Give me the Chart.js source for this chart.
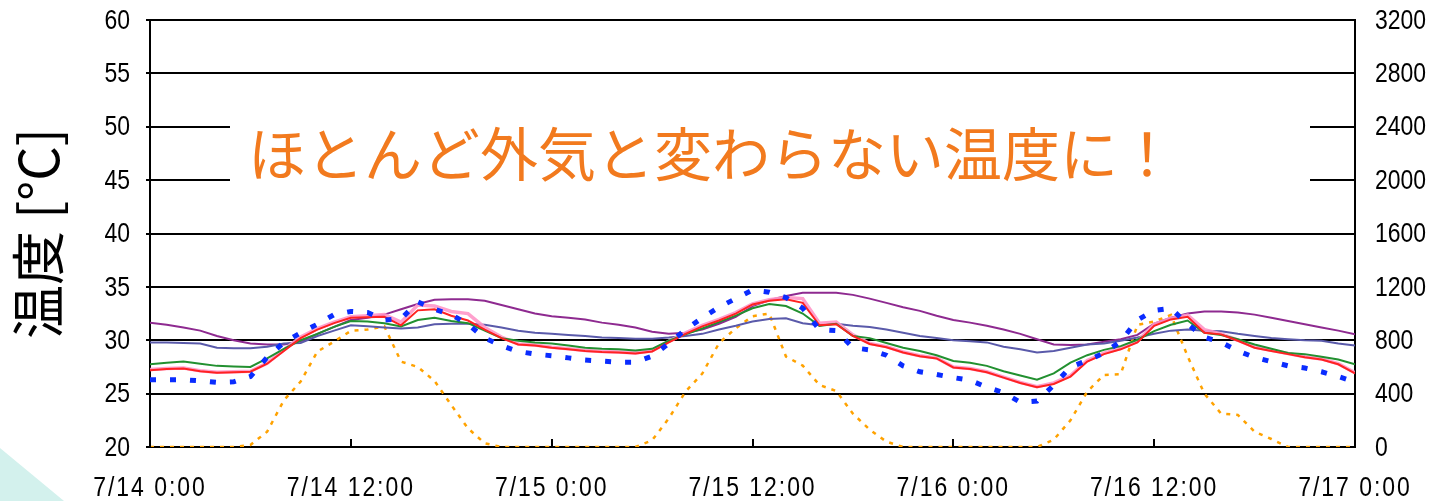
<!DOCTYPE html>
<html>
<head>
<meta charset="utf-8">
<script src="https://cdn.jsdelivr.net/npm/chart.js@4.4.1/dist/chart.umd.min.js"></script>
<style>
html,body{margin:0;padding:0;background:#fff;}
#wrap{position:relative;width:1437px;height:501px;overflow:hidden;background:#fff;}
#deco{position:absolute;left:0;top:0;width:1437px;height:501px;background:#d3f1ed;clip-path:polygon(0 448px,64px 501px,0 501px);}
#c{position:absolute;left:0;top:0;}
</style>
</head>
<body>
<div id="wrap"><div id="deco"></div><canvas id="c" width="1437" height="501"></canvas></div>
<script>
// ---- data (hours since 7/14 0:00) ----
const hours = [0,1,2,3,4,5,6,7,8,9,10,11,12,13,14,15,16,17,18,19,20,21,22,23,24,25,26,27,28,29,30,31,32,33,34,35,36,37,38,39,40,41,42,43,44,45,46,47,48,49,50,51,52,53,54,55,56,57,58,59,60,61,62,63,64,65,66,67,68,69,70,71,72];
const tickLabels = ["7/14 0:00","7/14 12:00","7/15 0:00","7/15 12:00","7/16 0:00","7/16 12:00","7/17 0:00"];

const purpleTemp = [31.65,31.45,31.2,30.9,30.4,30.0,29.7,29.6,29.6,29.9,30.6,31.25,
  31.9,32.1,32.4,32.9,33.4,33.8,33.85,33.85,33.7,33.3,32.9,32.5,
  32.25,32.1,31.95,31.65,31.45,31.2,30.8,30.6,30.7,31.0,31.55,32.2,
  33.2,33.75,34.15,34.45,34.45,34.45,34.25,33.9,33.5,33.1,32.75,32.3,
  31.9,31.65,31.35,31.0,30.6,30.1,29.6,29.55,29.6,29.85,30.1,30.5,
  31.55,32.1,32.5,32.7,32.7,32.6,32.4,32.1,31.8,31.5,31.2,30.9,30.55];
const slateTemp = [29.8,29.8,29.75,29.7,29.3,29.25,29.25,29.4,29.7,29.75,30.4,30.9,
  31.4,31.3,31.2,31.1,31.2,31.5,31.55,31.55,31.45,31.2,30.9,30.7,
  30.6,30.5,30.4,30.25,30.2,30.15,30.15,30.25,30.4,30.6,31.0,31.35,
  31.75,32.0,32.05,31.6,31.4,31.55,31.35,31.25,31.0,30.7,30.4,30.2,
  30.0,29.9,29.8,29.4,29.15,28.85,29.0,29.3,29.6,29.7,29.95,30.25,
  30.6,30.9,31.0,30.9,30.85,30.6,30.4,30.2,30.1,30.0,29.95,29.7,29.5];
const greenTemp = [27.75,27.9,28.0,27.8,27.6,27.55,27.5,28.3,29.2,30.0,30.6,31.25,
  31.8,31.75,31.6,31.3,31.9,32.1,31.8,31.6,30.9,30.2,29.95,29.8,
  29.7,29.5,29.3,29.2,29.15,29.05,29.2,29.95,30.55,31.1,31.7,32.3,
  33.0,33.4,33.2,32.5,31.35,31.55,30.4,30.2,29.75,29.3,29.0,28.6,
  28.05,27.9,27.6,27.1,26.7,26.3,26.9,27.9,28.6,29.1,29.45,30.05,
  30.85,31.45,31.85,30.7,30.5,30.1,29.6,29.2,28.8,28.7,28.45,28.2,27.75];
const redTemp = [27.2,27.3,27.35,27.1,26.95,27.0,27.05,27.8,29.0,30.2,31.0,31.6,
  32.1,32.15,32.2,31.4,32.8,32.9,32.3,31.85,31.0,30.2,29.6,29.5,
  29.3,29.15,29.0,28.9,28.85,28.75,28.95,29.8,30.6,31.3,31.85,32.5,
  33.35,33.7,33.85,33.5,31.4,31.5,30.4,29.65,29.35,28.85,28.5,28.3,
  27.45,27.3,27.0,26.5,26.0,25.6,25.9,26.6,28.0,28.7,29.15,29.8,
  31.35,31.95,32.2,30.7,30.55,29.95,29.3,29.0,28.7,28.4,28.2,27.75,26.9];
const pinkTemp = [27.25,27.35,27.4,27.15,27.0,27.05,27.1,27.85,29.1,30.3,31.1,31.7,
  32.2,32.3,32.4,31.7,33.3,33.2,32.7,32.5,31.2,30.3,29.65,29.55,
  29.35,29.2,29.05,28.95,28.9,28.8,29.0,29.9,30.7,31.4,31.95,32.6,
  33.4,33.8,34.0,33.9,31.6,31.7,30.5,29.7,29.4,28.9,28.55,28.35,
  27.5,27.35,27.05,26.55,26.05,25.65,26.0,26.7,28.1,28.8,29.25,29.9,
  31.5,32.05,32.35,31.0,30.6,30.0,29.35,29.05,28.75,28.45,28.25,27.8,26.95];
const outdoorTemp = [26.3,26.3,26.3,26.2,26.05,26.1,26.6,28.4,29.8,30.7,31.5,32.4,
  32.7,32.6,31.9,32.0,33.6,32.9,32.4,31.5,30.2,29.5,28.95,28.7,
  28.55,28.35,28.15,28.05,27.95,27.95,28.5,29.7,31.0,32.1,33.1,33.9,
  34.7,34.5,34.0,33.0,31.0,30.9,29.3,29.1,28.6,27.6,27.05,26.8,
  26.5,26.25,25.6,25.1,24.2,24.3,25.8,27.5,28.1,28.8,29.9,31.9,
  32.8,33.0,31.5,30.3,29.8,29.0,28.4,28.0,27.6,27.4,27.05,26.6,26.1];
const solar = [0,0,0,0,0,0,15,115,350,490,715,790,
  870,880,905,640,600,495,315,140,28,0,0,0,
  0,0,0,0,0,0,50,215,415,550,778,890,
  980,1000,678,610,465,420,250,130,40,0,0,0,
  0,0,0,0,0,0,55,200,415,540,545,915,
  940,990,680,400,250,240,115,60,0,0,0,0,0];

const yTicksLeft = {min:20, max:60, step:5};
const yTicksRight = {min:0, max:3200, step:400};
const titleY = "温度 [°C]";
const noteText = "ほとんど外気と変わらない温度に！";

function pts(arr){ return arr.map((v,i)=>({x:hours[i], y:v})); }

// narrow-tall tick label look (drawn as real text, horizontally condensed)
const LBL_FONT = "28px 'Liberation Sans', Arial, sans-serif";
const LBL_SX = 0.82;

function drawLabel(ctx, text, x, y, align, spacing){
  ctx.save();
  ctx.translate(x, y);
  ctx.scale(LBL_SX, 1);
  if ('letterSpacing' in ctx) ctx.letterSpacing = spacing || '0px';
  ctx.textAlign = align;
  ctx.textBaseline = 'middle';
  ctx.fillText(text, 0, 0);
  ctx.restore();
}

const tickText = {
  id:'tickText',
  afterDraw(chart){
    const ctx = chart.ctx, ca = chart.chartArea;
    const {x, y, y2} = chart.scales;
    ctx.save();
    ctx.fillStyle = '#000';
    ctx.font = LBL_FONT;
    y.ticks.forEach((t,i)=>drawLabel(ctx, String(t.value), ca.left-20, y.getPixelForTick(i)+1, 'right'));
    y2.ticks.forEach((t,i)=>drawLabel(ctx, String(t.value), ca.right+20, y2.getPixelForTick(i)+1, 'left'));
    x.ticks.forEach((t,i)=>drawLabel(ctx, tickLabels[Math.round(t.value/12)], x.getPixelForTick(i), ca.bottom+41, 'center', '2.4px'));
    // inner tick marks on the time axis
    ctx.strokeStyle = '#000'; ctx.lineWidth = 2;
    x.ticks.forEach((t,i)=>{
      const px = Math.round(x.getPixelForTick(i));
      ctx.beginPath(); ctx.moveTo(px, ca.bottom); ctx.lineTo(px, ca.bottom-8); ctx.stroke();
    });
    ctx.restore();
  }
};
const note = {
  id:'note',
  afterDraw(chart){
    const ctx = chart.ctx, ca = chart.chartArea;
    ctx.save();
    ctx.fillStyle = '#fff';
    ctx.fillRect(ca.left+80, ca.top+86, ca.width-125, 94);
    ctx.fillStyle = '#F27A1E';
    ctx.font = "58px 'Noto Sans CJK JP'";
    ctx.textBaseline = 'middle';
    ctx.textAlign = 'left';
    ctx.fillText(noteText, ca.left+98, ca.top+134);
    ctx.restore();
  }
};

function zeroPad(s){ s.paddingTop=0; s.paddingBottom=0; s.paddingLeft=0; s.paddingRight=0; }

new Chart(document.getElementById('c'), {
  type:'line',
  data:{
    datasets:[
      {label:'outdoor', data:pts(outdoorTemp), yAxisID:'y', borderColor:'#0a2cff', borderWidth:5, borderDash:[6,14], pointRadius:0, tension:0},
      {label:'red', data:pts(redTemp), yAxisID:'y', borderColor:'#ff2222', borderWidth:2, pointRadius:0, tension:0},
      {label:'green', data:pts(greenTemp), yAxisID:'y', borderColor:'#229030', borderWidth:2, pointRadius:0, tension:0},
      {label:'pink', data:pts(pinkTemp), yAxisID:'y', borderColor:'rgba(255,150,200,0.9)', borderWidth:3.5, pointRadius:0, tension:0},
      {label:'slate', data:pts(slateTemp), yAxisID:'y', borderColor:'#5a5aaa', borderWidth:2, pointRadius:0, tension:0},
      {label:'purple', data:pts(purpleTemp), yAxisID:'y', borderColor:'#8e2a90', borderWidth:2, pointRadius:0, tension:0},
      {label:'solar', data:pts(solar), yAxisID:'y2', borderColor:'#ffa200', borderWidth:2.5, borderDash:[4,6], pointRadius:0, tension:0}
    ]
  },
  options:{
    responsive:false, animation:false, devicePixelRatio:1,
    layout:{padding:{top:20,left:0,right:0,bottom:0}},
    plugins:{legend:{display:false}, tooltip:{enabled:false}},
    scales:{
      x:{type:'linear', min:0, max:72,
        grid:{display:false},
        border:{display:true, color:'#000', width:2},
        ticks:{display:false, stepSize:12, autoSkip:false, maxRotation:0},
        afterFit:(s)=>{s.height=54; zeroPad(s);}
      },
      y:{position:'left', min:yTicksLeft.min, max:yTicksLeft.max,
        grid:{color:'#000', lineWidth:2, tickLength:4},
        border:{display:true, color:'#000', width:2},
        ticks:{display:false, stepSize:yTicksLeft.step},
        title:{display:true, text:titleY, color:'#000', font:{family:"'Noto Sans CJK JP'", size:54}, padding:{top:6,bottom:0}},
        afterFit:(s)=>{s.width=150; zeroPad(s);}
      },
      y2:{position:'right', min:yTicksRight.min, max:yTicksRight.max,
        grid:{drawOnChartArea:false, drawTicks:false},
        border:{display:true, color:'#000', width:2},
        ticks:{display:false, stepSize:yTicksRight.step},
        afterFit:(s)=>{s.width=82; zeroPad(s);}
      }
    }
  },
  plugins:[note, tickText]
});
</script>
</body>
</html>
